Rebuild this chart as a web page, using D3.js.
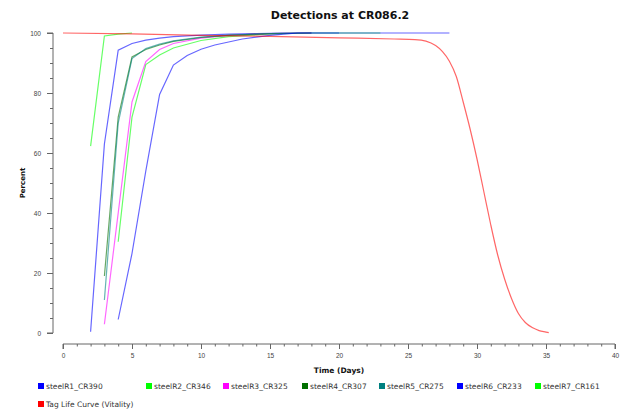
<!DOCTYPE html>
<html>
<head>
<meta charset="utf-8">
<script src="https://cdn.jsdelivr.net/npm/d3@7"></script>
<style>
  body { margin: 0; background: #fff; }
  svg { display: block; }
  text { font-family: "DejaVu Sans", sans-serif; }
</style>
</head>
<body>
<svg id="chart" width="624" height="413"></svg>
<script>
// series names + colours (legend order)
const seriesNames = ["steelR1_CR390", "steelR2_CR346", "steelR3_CR325", "steelR4_CR307",
    "steelR5_CR275", "steelR6_CR233", "steelR7_CR161", "Tag Life Curve (Vitality)"];
const seriesColors = ["#0000ff", "#00ff00", "#ff00ff", "#007000", "#008080", "#0000ff", "#00ff00", "#ff0000"];

// days / percent for each series
const r1Days = [2, 3, 4, 5, 6, 7, 8, 10, 12, 14, 16, 20];
const r1Pct  = [0.4, 63, 94.3, 96.5, 97.6, 98.3, 98.8, 99.3, 99.6, 99.8, 100, 100];
const r2Days = [4, 5, 6, 7, 8, 10, 12, 15, 18, 23];
const r2Pct  = [30.4, 72, 89.5, 92.7, 95, 97.5, 98.8, 99.7, 100, 100];
const r3Days = [3, 4, 5, 6, 7, 8, 10, 12, 15, 18];
const r3Pct  = [2.9, 40, 77, 90.5, 94.5, 96.5, 98.3, 99.2, 99.8, 100];
const r4Days = [3, 4, 5, 6, 7, 8, 10, 12, 15, 18];
const r4Pct  = [19, 72, 92, 94.5, 96, 97.2, 98.5, 99.2, 99.8, 100];
const r5Days = [3, 4, 5, 6, 7, 8, 10, 12, 15, 18];
const r5Pct  = [11, 70, 91.5, 94.8, 96.3, 97.4, 98.6, 99.3, 99.8, 100];
const r6Days = [4, 5, 6, 7, 8, 9, 10, 11, 12, 13, 14, 15, 16, 17, 20, 25, 28];
const r6Pct  = [4.5, 26.5, 54, 79.5, 89.3, 92.5, 94.6, 96, 97, 98, 98.6, 99.2, 99.6, 100, 100, 100, 100];
const r7Days = [2, 3, 4, 5];
const r7Pct  = [62.3, 99, 99.6, 100];
const tagDays = [0, 5, 10, 15, 20, 24, 25.5, 26.3, 27, 27.5, 28, 28.5, 29, 29.5, 30, 30.5, 31, 31.5, 32, 32.5, 33, 33.5, 34, 34.5, 35, 35.2];
const tagPct  = [100, 99.7, 99.2, 98.9, 98.4, 98, 97.8, 97.3, 95.8, 93.8, 90.6, 85.5, 77, 68, 58, 47, 36, 26, 18, 11.5, 6.5, 3.5, 1.8, 0.8, 0.3, 0.1];

const xTicks = [0, 5, 10, 15, 20, 25, 30, 35, 40];
const yTicks = [0, 20, 40, 60, 80, 100];

const allDays = [r1Days, r2Days, r3Days, r4Days, r5Days, r6Days, r7Days, tagDays];
const allPct  = [r1Pct, r2Pct, r3Pct, r4Pct, r5Pct, r6Pct, r7Pct, tagPct];

const svg = d3.select("#chart");

const x = d3.scaleLinear().domain([0, 40]).range([63, 615]);
const y = d3.scaleLinear().domain([0, 100]).range([333, 33]);

// title
svg.append("text").attr("x", 340).attr("y", 19).attr("text-anchor", "middle")
    .style("font-size", "11px").style("font-weight", "bold").attr("fill", "#111")
    .text("Detections at CR086.2");

// y axis, offset left of the plot
const yAxis = svg.append("g").attr("transform", "translate(53,0)")
    .call(d3.axisLeft(y).tickValues(d3.range(0, 101, 5)).tickSize(3).tickFormat(""));
yAxis.select(".domain").attr("d", "M-6,33H0V333H-6");
yAxis.append("g").call(d3.axisLeft(y).tickValues(yTicks).tickSize(6).tickPadding(6))
    .call(g => g.select(".domain").remove());
yAxis.selectAll("line, path").attr("stroke", "#666");
yAxis.selectAll("text").attr("fill", "#444").style("font-size", "6.5px")
    .style("font-family", "Liberation Sans, sans-serif");

// x axis, offset below the plot
const xAxis = svg.append("g").attr("transform", "translate(0,344)")
    .call(d3.axisBottom(x).tickValues(d3.range(0, 41, 1)).tickSize(2.5).tickFormat(""));
xAxis.select(".domain").attr("d", "M63,5V0H615V5");
xAxis.append("g").call(d3.axisBottom(x).tickValues(xTicks).tickSize(5).tickPadding(4))
    .call(g => g.select(".domain").remove());
xAxis.selectAll("line, path").attr("stroke", "#666");
xAxis.selectAll("text").attr("fill", "#444").style("font-size", "6.5px")
    .style("font-family", "Liberation Sans, sans-serif");

// axis titles
svg.append("text").attr("x", 339).attr("y", 373).attr("text-anchor", "middle")
    .style("font-size", "7.5px").style("font-weight", "bold").attr("fill", "#111")
    .text("Time (Days)");
svg.append("text").attr("transform", "translate(25,183) rotate(-90)").attr("text-anchor", "middle")
    .style("font-size", "7px").style("font-weight", "bold").attr("fill", "#111")
    .text("Percent");

// lines
const line = d3.line().x(d => x(d[0])).y(d => y(d[1]));
const smooth = d3.line().x(d => x(d[0])).y(d => y(d[1])).curve(d3.curveMonotoneX);

seriesNames.forEach((name, i) => {
    let pts = allDays[i].map((d, j) => [d, allPct[i][j]]);
    svg.append("path")
        .attr("d", i == 7 ? smooth(pts) : line(pts))
        .attr("fill", "none")
        .attr("stroke", seriesColors[i])
        .attr("stroke-opacity", 0.6)
        .attr("stroke-width", 1.2);
});

// legend
const legendX = [38, 146, 223, 302, 379, 457, 535, 38];
const legendY = [386, 386, 386, 386, 386, 386, 386, 404];
const legend = svg.append("g");
seriesNames.forEach((name, i) => {
    legend.append("rect").attr("x", legendX[i]).attr("y", legendY[i] - 3)
        .attr("width", 6).attr("height", 6).attr("fill", seriesColors[i]);
    legend.append("text").attr("x", legendX[i] + 8).attr("y", legendY[i] + 2.8)
        .style("font-size", "7.5px").attr("fill", "#333").text(name);
});
</script>
</body>
</html>
